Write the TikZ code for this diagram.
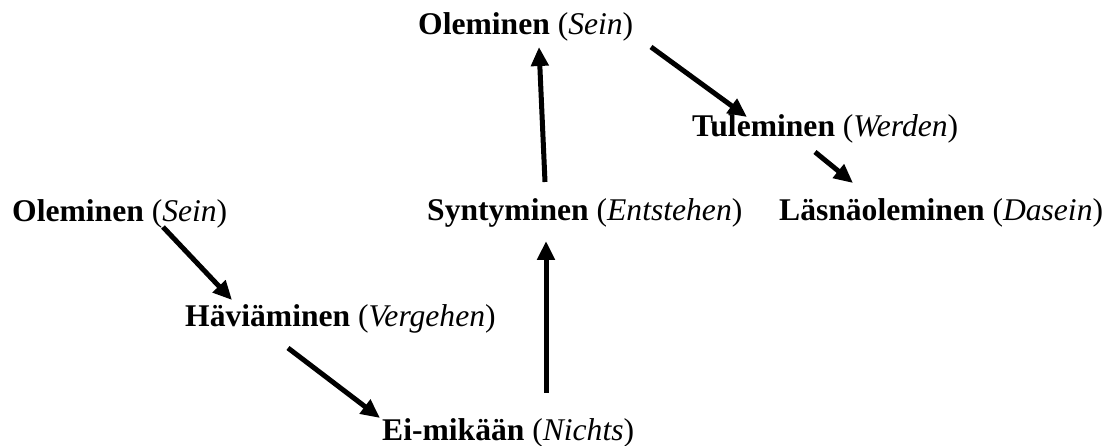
\documentclass[tikz,border=0pt]{standalone}
\usepackage{fontspec}
\setmainfont{Liberation Serif}
\usetikzlibrary{arrows.meta}
\begin{document}
\begin{tikzpicture}[x=1pt, y=-1pt,
	concept/.style={anchor=base west, inner sep=0pt, font=\fontsize{31.6}{38}\selectfont},
	arr/.style={-{Triangle[length=19pt, width=17pt]}, line width=5pt}]
	\useasboundingbox (0,0) rectangle (1117,446);
	\node[concept] (oleA) at (418,35) {\textbf{Oleminen} (\textit{Sein})};
	\node[concept] (tul) at (692,137) {\textbf{Tuleminen} (\textit{Werden})};
	\node[concept] (oleB) at (12,222) {\textbf{Oleminen} (\textit{Sein})};
	\node[concept] (syn) at (427,221) {\textbf{Syntyminen} (\textit{Entstehen})};
	\node[concept] (las) at (779,221) {\textbf{Läsnäoleminen} (\textit{Dasein})};
	\node[concept] (hav) at (185,327) {\textbf{Häviäminen} (\textit{Vergehen})};
	\node[concept] (ei) at (382,440) {\textbf{Ei-mikään} (\textit{Nichts})};
	\draw[arr] ([shift={(118,-39)}]syn.base west) -- ([shift={(121,12)}]oleA.base west);
	\draw[arr] ([shift={(233,12)}]oleA.base west) -- ([shift={(55,-20)}]tul.base west);
	\draw[arr] ([shift={(123,15)}]tul.base west) -- ([shift={(74,-38)}]las.base west);
	\draw[arr] ([shift={(151,5)}]oleB.base west) -- ([shift={(47,-27)}]hav.base west);
	\draw[arr] ([shift={(103,21)}]hav.base west) -- ([shift={(-2,-22)}]ei.base west);
	\draw[arr] ([shift={(164,-47)}]ei.base west) -- ([shift={(119,20)}]syn.base west);
\end{tikzpicture}
\end{document}
